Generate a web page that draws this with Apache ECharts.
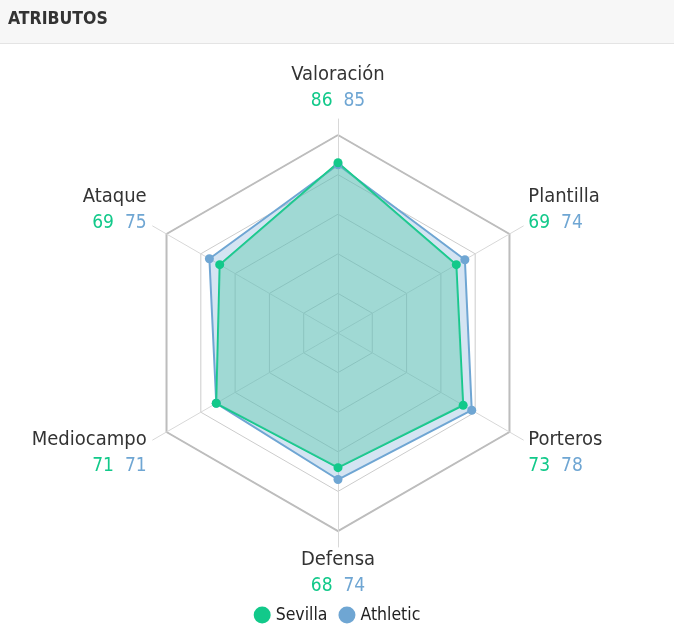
<!DOCTYPE html>
<html>
<head>
<meta charset="utf-8">
<title>Atributos</title>
<script src="https://cdn.jsdelivr.net/npm/echarts@6/dist/echarts.min.js"></script>
<style>
  html, body { margin: 0; padding: 0; background: #fff; }
  #chart { width: 674px; height: 636px; }
</style>
</head>
<body>
<div id="chart"></div>
<script>
// indicators run counter-clockwise from the top (ECharts default)
const indicators = ["Valoración", "Ataque", "Mediocampo", "Defensa", "Porteros", "Plantilla"];
const sevilla = [86, 69, 71, 68, 73, 69];
const athletic = [85, 75, 71, 74, 78, 74];
const teams = ["Sevilla", "Athletic"];

const FONT = "'DejaVu Sans Condensed', 'Liberation Sans Narrow', sans-serif";
const GREEN = "#12c98a";
const BLUE = "#6fa6d3";
const CX = 338, CY = 333;

const chart = echarts.init(document.getElementById("chart"), null, { renderer: "canvas" });

// where each label sits round the hexagon: t, ul, ll, b, lr, ur
const place = ["t", "ul", "ll", "b", "lr", "ur"];

function nameLabel(name) {
  const i = indicators.indexOf(name);
  const s = sevilla[i], a = athletic[i];
  switch (place[i]) {
    case "t": return `{n|${name}}\n{g|${s}}{b|${a}}\n{s5| }`;
    case "b": return `{n|${name}}\n{g|${s}}{b|${a}}`;
    case "ur": return `{nR|${name}}\n{gR|${s}}{b|${a}}\n{s32| }`;
    case "lr": return `{s26| }\n{nR|${name}}\n{gR|${s}}{b|${a}}`;
    case "ul": return `{nL|${name}}\n{g|${s}}{bL|${a}}\n{s32| }`;
    default: return `{s26| }\n{nL|${name}}\n{g|${s}}{bL|${a}}`;
  }
}

const nm = { fontSize: 20, color: "#333", lineHeight: 26, fontFamily: FONT };
const gn = { fontSize: 19, color: GREEN, lineHeight: 26, fontFamily: FONT, padding: [0, 11, 0, 0] };
const bl = { fontSize: 19, color: BLUE, lineHeight: 26, fontFamily: FONT };
const rich = {
  n: nm,
  nR: { ...nm, padding: [0, 0, 0, 5] },
  nL: { ...nm, padding: [0, 6, 0, 0] },
  g: gn,
  gR: { ...gn, padding: [0, 11, 0, 5] },
  b: bl,
  bL: { ...bl, padding: [0, 6, 0, 0] },
  s5: { fontSize: 1, lineHeight: 5 },
  s26: { fontSize: 1, lineHeight: 26 },
  s32: { fontSize: 1, lineHeight: 32 }
};

const ind = indicators.map(n => ({ name: n, min: 0, max: 100 }));
const off = { show: false };

chart.setOption({
  animation: false,
  textStyle: { fontFamily: FONT },
  graphic: [
    { type: "rect", z: -10, shape: { x: 0, y: 0, width: 674, height: 43 }, style: { fill: "#f7f7f7" } },
    { type: "line", z: -10, shape: { x1: 0, y1: 43.5, x2: 674, y2: 43.5 }, style: { stroke: "#e4e4e4", lineWidth: 1 } }
  ],
  title: {
    text: "ATRIBUTOS", left: 8, top: 10, padding: 0,
    textStyle: { fontFamily: FONT, fontSize: 17.5, fontWeight: "bold", color: "#333" }
  },
  legend: {
    data: teams, top: 601, left: "center",
    icon: "circle", itemWidth: 17, itemHeight: 17, itemGap: 11,
    textStyle: { fontFamily: FONT, fontSize: 17.5, color: "#222" }
  },
  radar: [
    { // inner rings
      center: [CX, CY], radius: 198, splitNumber: 5, shape: "polygon", indicator: ind,
      axisName: off, axisLine: off, splitArea: off,
      splitLine: { lineStyle: { color: "#cccccc", width: 1 } }
    },
    { // thicker outer ring
      center: [CX, CY], radius: 198, splitNumber: 1, shape: "polygon", indicator: ind,
      axisName: off, axisLine: off, splitArea: off,
      splitLine: { lineStyle: { color: "#bdbdbd", width: 2 } }
    },
    { // spokes running past the rim, and the names
      center: [CX, CY], radius: 214, splitNumber: 1, shape: "polygon", indicator: ind,
      splitLine: off, splitArea: off, nameGap: 0,
      axisLine: { lineStyle: { color: "#d8d8d8", width: 1 } },
      axisName: { formatter: nameLabel, rich }
    }
  ],
  series: [
    {
      type: "radar", radarIndex: 0, symbol: "circle", symbolSize: 9,
      data: [
        {
          name: "Athletic", value: athletic,
          lineStyle: { color: BLUE, width: 2 },
          itemStyle: { color: BLUE },
          areaStyle: { color: "rgba(111,166,211,0.3)", opacity: 1 }
        },
        {
          name: "Sevilla", value: sevilla,
          lineStyle: { color: GREEN, width: 2 },
          itemStyle: { color: GREEN },
          areaStyle: { color: "rgba(82,201,167,0.4)", opacity: 1 }
        }
      ]
    }
  ]
});

window.addEventListener("resize", () => chart.resize());
</script>
</body>
</html>
